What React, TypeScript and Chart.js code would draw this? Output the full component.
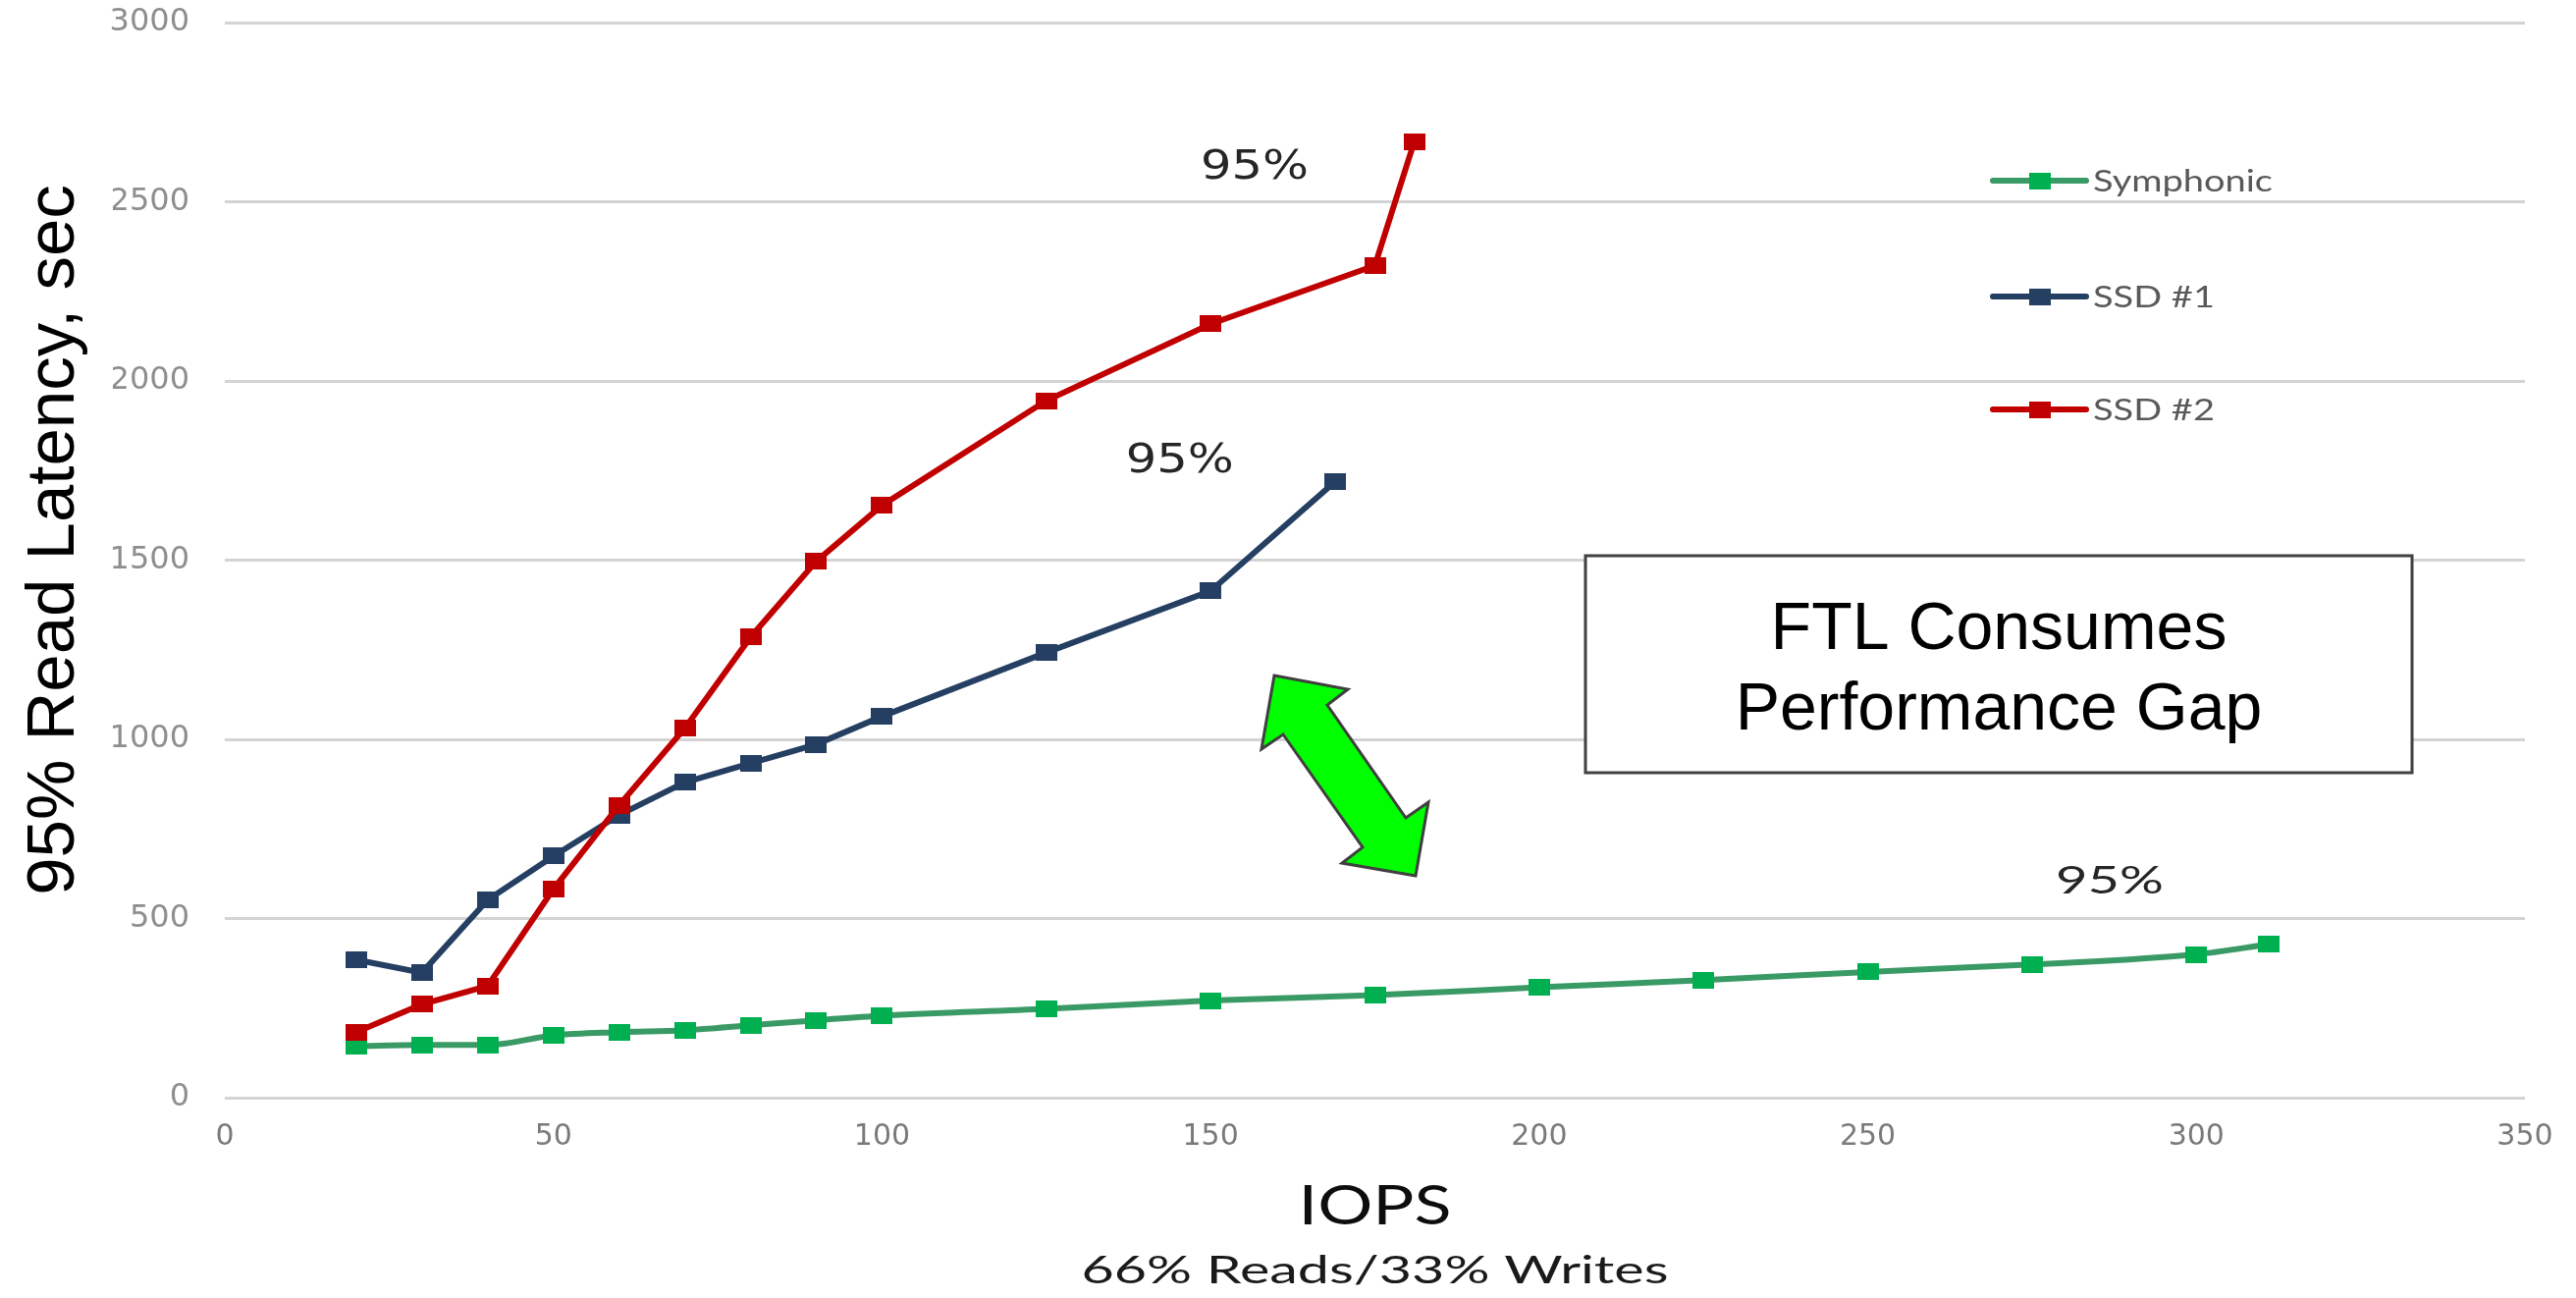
import React, { useEffect, useRef } from "react";
import { Chart, registerables } from "chart.js";

Chart.register(...registerables);

// ---------- data ----------
const seriesNames = ["Symphonic", "SSD #1", "SSD #2"];

const symphonicIops = [20, 30, 40, 50, 60, 70, 80, 90, 100, 125, 150, 175, 200, 225, 250, 275, 300, 311];
const symphonicLatency = [144, 147, 147, 174, 183, 188, 202, 216, 229, 248, 271, 286, 308, 328, 351, 372, 400, 428];

const ssd1Iops = [20, 30, 40, 50, 60, 70, 80, 90, 100, 125, 150, 169];
const ssd1Latency = [385, 349, 552, 674, 789, 880, 933, 986, 1064, 1242, 1414, 1720];

const ssd2Iops = [20, 30, 40, 50, 60, 70, 80, 90, 100, 125, 150, 175, 181];
const ssd2Latency = [183, 261, 312, 582, 816, 1031, 1285, 1497, 1653, 1945, 2159, 2322, 2668];

const xAxisMin = 0;
const xAxisMax = 350;
const xAxisStep = 50;
const yAxisMin = 0;
const yAxisMax = 3000;
const yAxisStep = 500;

const xTitle = "IOPS";
const xSubtitle = "66% Reads/33% Writes";
const yTitle = "95% Read Latency, sec";
const calloutLines = ["FTL Consumes", "Performance Gap"];
const peakText = "95%";

// ---------- styles / annotation placement ----------
const COLORS = {
  symLine: "#3a9a66",
  symMarker: "#00b050",
  ssd1: "#253f62",
  ssd2: "#c00000",
  grid: "#d3d3d3",
};

// annotation anchors in data space (baseline centre of the "95%" labels)
const peakAnchors = [
  { x: 156.7, y: 2564, font: "40px 'DejaVu Sans'" },
  { x: 145.3, y: 1745, font: "40px 'DejaVu Sans'" },
  { x: 286.8, y: 570, font: "39px Lato" },
];

const arrowPoly: [number, number][] = [
  [1298, 688], [1373, 702], [1352, 718], [1432, 833], [1455, 817],
  [1442, 892], [1367, 879], [1388, 863], [1307, 748], [1285, 763],
];

function fitText(
  ctx: CanvasRenderingContext2D,
  text: string,
  x: number,
  baseline: number,
  font: string,
  color: string,
  targetW: number | null,
  align: "center" | "left"
) {
  ctx.save();
  ctx.font = font;
  ctx.fillStyle = color;
  ctx.textBaseline = "alphabetic";
  ctx.textAlign = "left";
  const w = ctx.measureText(text).width;
  const sx = targetW ? targetW / w : 1;
  const startX = align === "center" ? x - (w * sx) / 2 : x;
  ctx.translate(startX, baseline);
  ctx.scale(sx, 1);
  ctx.fillText(text, 0, 0);
  ctx.restore();
}

function makeMarker(color: string) {
  const m = document.createElement("canvas");
  m.width = 22;
  m.height = 17;
  const g = m.getContext("2d")!;
  g.fillStyle = color;
  g.fillRect(0, 0, 22, 17);
  return m;
}

export default function App() {
  const ref = useRef<HTMLCanvasElement>(null);

  useEffect(() => {
    const canvas = ref.current!;
    const symMarker = makeMarker(COLORS.symMarker);
    const ssd1Marker = makeMarker(COLORS.ssd1);
    const ssd2Marker = makeMarker(COLORS.ssd2);

    const toPoints = (xs: number[], ys: number[]) => xs.map((x, i) => ({ x, y: ys[i] }));

    const overlay = {
      id: "overlay",
      afterDraw(chart: any) {
        const ctx: CanvasRenderingContext2D = chart.ctx;
        const area = chart.chartArea;
        const xs = chart.scales.x;
        const ys = chart.scales.y;

        // white title box covering the left edge of the y tick labels
        ctx.save();
        ctx.fillStyle = "#ffffff";
        ctx.fillRect(0, 60, 115, 1040);
        ctx.restore();

        // y title
        ctx.save();
        ctx.translate(75, 550);
        ctx.rotate(-Math.PI / 2);
        ctx.font = "69px 'Liberation Sans'";
        ctx.fillStyle = "#000000";
        ctx.textAlign = "center";
        ctx.textBaseline = "alphabetic";
        ctx.fillText(yTitle, 0, 0);
        ctx.restore();

        // x titles
        const cx = (area.left + area.right) / 2;
        fitText(ctx, xTitle, cx, 1247, "56px Lato", "#0d0d0d", 156, "center");
        fitText(ctx, xSubtitle, cx, 1307, "39px Lato", "#1a1a1a", 598, "center");

        // legend
        const legendRows = [
          { name: seriesNames[0], line: COLORS.symLine, marker: symMarker, y: 184 },
          { name: seriesNames[1], line: COLORS.ssd1, marker: ssd1Marker, y: 302 },
          { name: seriesNames[2], line: COLORS.ssd2, marker: ssd2Marker, y: 417 },
        ];
        ctx.save();
        ctx.font = "31px Lato";
        const legendScale = 183 / ctx.measureText(seriesNames[0]).width;
        ctx.restore();
        legendRows.forEach((r) => {
          ctx.save();
          ctx.strokeStyle = r.line;
          ctx.lineWidth = 6;
          ctx.lineCap = "round";
          ctx.beginPath();
          ctx.moveTo(2030, r.y);
          ctx.lineTo(2125, r.y);
          ctx.stroke();
          ctx.drawImage(r.marker, 2078 - 11, r.y - 8.5);
          ctx.restore();
          ctx.save();
          ctx.font = "31px Lato";
          const w = ctx.measureText(r.name).width;
          ctx.restore();
          fitText(ctx, r.name, 2132, r.y + 11, "31px Lato", "#595959", w * legendScale, "left");
        });

        // 95% labels
        peakAnchors.forEach((a) => {
          fitText(ctx, peakText, xs.getPixelForValue(a.x), ys.getPixelForValue(a.y), a.font, "#262626", 110, "center");
        });

        // double arrow
        ctx.save();
        ctx.beginPath();
        arrowPoly.forEach(([px, py], i) => (i === 0 ? ctx.moveTo(px, py) : ctx.lineTo(px, py)));
        ctx.closePath();
        ctx.fillStyle = "#00ff00";
        ctx.fill();
        ctx.strokeStyle = "#3f3f3f";
        ctx.lineWidth = 3;
        ctx.lineJoin = "miter";
        ctx.stroke();
        ctx.restore();

        // callout box
        ctx.save();
        ctx.fillStyle = "#ffffff";
        ctx.fillRect(1615, 566, 842, 221);
        ctx.strokeStyle = "#404040";
        ctx.lineWidth = 3;
        ctx.strokeRect(1615, 566, 842, 221);
        ctx.restore();
        fitText(ctx, calloutLines[0], 2036, 661, "68px 'Liberation Sans'", "#000000", null, "center");
        fitText(ctx, calloutLines[1], 2036, 743, "68px 'Liberation Sans'", "#000000", null, "center");
      },
    };

    const chart = new Chart(canvas, {
      type: "line",
      data: {
        datasets: [
          {
            label: seriesNames[0],
            data: toPoints(symphonicIops, symphonicLatency),
            borderColor: COLORS.symLine,
            backgroundColor: COLORS.symMarker,
            borderWidth: 6,
            pointStyle: symMarker as any,
            pointRadius: 10,
            cubicInterpolationMode: "monotone",
            order: 2,
          },
          {
            label: seriesNames[1],
            data: toPoints(ssd1Iops, ssd1Latency),
            borderColor: COLORS.ssd1,
            backgroundColor: COLORS.ssd1,
            borderWidth: 6,
            pointStyle: ssd1Marker as any,
            pointRadius: 10,
            tension: 0,
            order: 1,
          },
          {
            label: seriesNames[2],
            data: toPoints(ssd2Iops, ssd2Latency),
            borderColor: COLORS.ssd2,
            backgroundColor: COLORS.ssd2,
            borderWidth: 6,
            pointStyle: ssd2Marker as any,
            pointRadius: 10,
            tension: 0,
            order: 0,
          },
        ],
      },
      options: {
        responsive: false,
        maintainAspectRatio: false,
        devicePixelRatio: 1,
        animation: false,
        events: [],
        layout: { padding: { top: 23, right: 52, left: 0, bottom: 0 } },
        plugins: {
          legend: { display: false },
          tooltip: { enabled: false },
          title: { display: false },
        },
        scales: {
          x: {
            type: "linear",
            min: xAxisMin,
            max: xAxisMax,
            grid: { display: false, drawTicks: false },
            border: { display: false },
            ticks: {
              stepSize: xAxisStep,
              padding: 22,
              color: "#7a7a7a",
              font: { family: "'DejaVu Sans'", size: 30 },
              maxRotation: 0,
              callback: (v: any) => String(v),
            },
            afterFit: (s: any) => {
              s.height = 204;
              s.paddingLeft = 0;
              s.paddingRight = 0;
            },
          },
          y: {
            type: "linear",
            min: yAxisMin,
            max: yAxisMax,
            grid: { color: COLORS.grid, lineWidth: 3, drawTicks: false },
            border: { display: false },
            ticks: {
              stepSize: yAxisStep,
              padding: 36,
              color: "#8e8e8e",
              font: { family: "'DejaVu Sans'", size: 32 },
              callback: (v: any) => String(v),
            },
            afterFit: (s: any) => {
              s.width = 229;
              s.paddingTop = 0;
              s.paddingBottom = 0;
            },
          },
        },
      },
      plugins: [overlay],
    });

    return () => chart.destroy();
  }, []);

  return (
    <div style={{ position: "absolute", left: 0, top: 0, width: 2624, height: 1322, background: "#ffffff" }}>
      <canvas ref={ref} width={2624} height={1322} style={{ display: "block", width: 2624, height: 1322 }} />
    </div>
  );
}
